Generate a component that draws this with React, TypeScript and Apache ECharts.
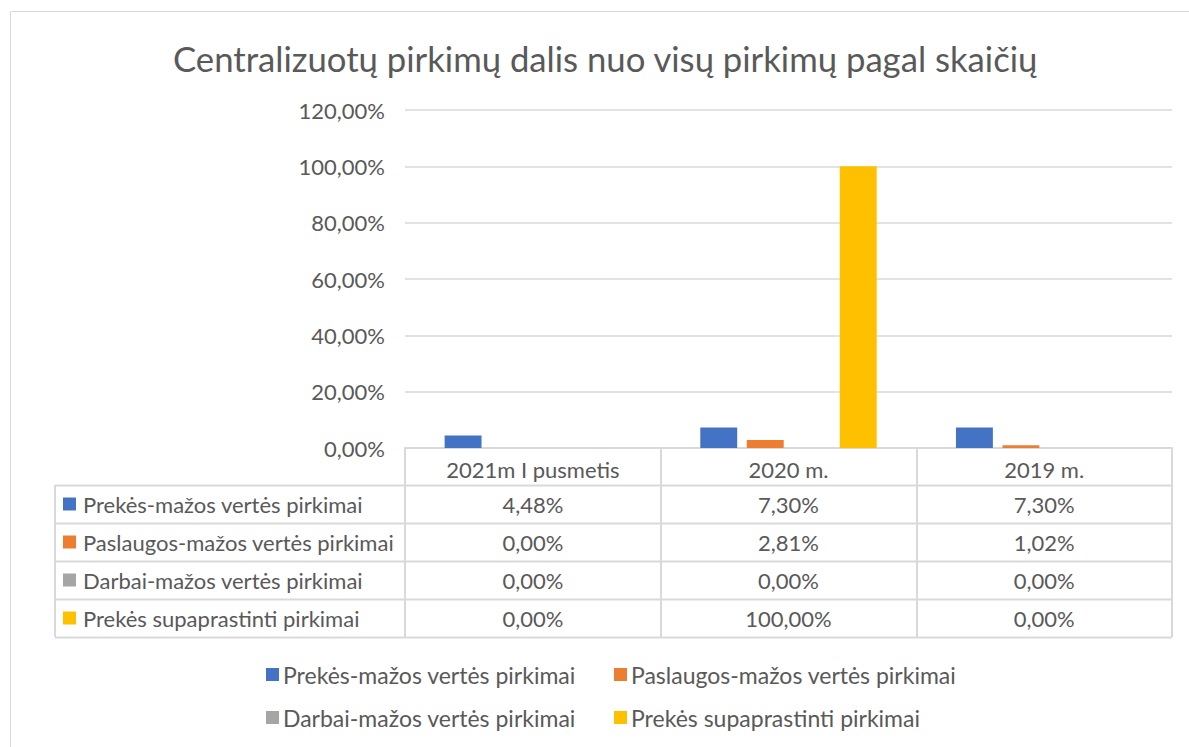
import React, { useEffect, useRef } from "react";
import * as echarts from "echarts";

const categories = ["2021m I pusmetis", "2020 m.", "2019 m."];
const seriesNames = [
  "Prekės-mažos vertės pirkimai",
  "Paslaugos-mažos vertės pirkimai",
  "Darbai-mažos vertės pirkimai",
  "Prekės supaprastinti pirkimai",
];
const prekesMazos = [4.48, 7.3, 7.3];
const paslaugosMazos = [0.0, 2.81, 1.02];
const darbaiMazos = [0.0, 0.0, 0.0];
const prekesSupaprastinti = [0.0, 100.0, 0.0];
const colors = ["#4472C4", "#ED7D31", "#A5A5A5", "#FFC000"];
const yTicks = { min: 0, max: 120, interval: 20 };

const FONT = "Lato";
const TXT = "#595959";
const LINE = "#d9d9d9";

const fmt = (v: number) => v.toFixed(2).replace(".", ",") + "%";

export default function App() {
  const ref = useRef<HTMLDivElement>(null);
  useEffect(() => {
    document.body.style.margin = "0";
    const chart = echarts.init(ref.current!, null, { renderer: "svg" });
    const all = [prekesMazos, paslaugosMazos, darbaiMazos, prekesSupaprastinti];

    const gridLeft = 405;
    const gridRight = 1172;
    const axisY = 448;
    const rowH = 38;
    const tableLeft = 55;
    const catW = (gridRight - gridLeft) / categories.length;

    const graphics: any[] = [];
    graphics.push({
      type: "rect",
      shape: { x: 10.5, y: 11.5, width: 1200, height: 800 },
      style: { fill: "none", stroke: LINE, lineWidth: 1 },
      silent: true,
    });
    for (let r = 1; r <= 5; r++) {
      const y = axisY + 37 + (r - 1) * rowH + 0.5;
      graphics.push({
        type: "line",
        shape: { x1: tableLeft, y1: y, x2: gridRight, y2: y },
        style: { stroke: LINE, lineWidth: 2 },
        silent: true,
      });
    }
    graphics.push({
      type: "line",
      shape: { x1: tableLeft, y1: axisY + 37, x2: tableLeft, y2: axisY + 37 + 4 * rowH },
      style: { stroke: LINE, lineWidth: 2 },
      silent: true,
    });
    seriesNames.forEach((name, i) => {
      const cy = axisY + 37 + i * rowH + rowH / 2;
      graphics.push({
        type: "rect",
        shape: { x: 63, y: cy - 6.5, width: 13, height: 13 },
        style: { fill: colors[i] },
        silent: true,
      });
      graphics.push({
        type: "text",
        x: 83,
        y: cy,
        style: {
          text: name,
          fill: TXT,
          font: `22px ${FONT}`,
          textVerticalAlign: "middle",
          textAlign: "left",
        },
        silent: true,
      });
      all[i].forEach((v, c) => {
        graphics.push({
          type: "text",
          x: gridLeft + catW * (c + 0.5),
          y: cy,
          style: {
            text: fmt(v),
            fill: TXT,
            font: `22px ${FONT}`,
            textVerticalAlign: "middle",
            textAlign: "center",
          },
          silent: true,
        });
      });
    });

    const legendPos = [
      [266, 663],
      [614, 663],
      [266, 706],
      [614, 706],
    ];
    const legends = seriesNames.map((name, i) => ({
      data: [name],
      left: legendPos[i][0],
      top: legendPos[i][1],
      icon: "rect",
      itemWidth: 13,
      itemHeight: 13,
      itemGap: 5,
      padding: 0,
      textStyle: { color: TXT, fontSize: 23, fontFamily: FONT, padding: [0, 0, 0, -1] },
      selectedMode: false,
    }));

    chart.setOption({
      animation: false,
      color: colors,
      title: {
        text: "Centralizuotų pirkimų dalis nuo visų pirkimų pagal skaičių",
        left: 168,
        top: 36,
        textStyle: { color: TXT, fontSize: 34.7, fontWeight: "normal", fontFamily: FONT },
      },
      legend: legends,
      grid: { left: gridLeft, right: 1189 - gridRight, top: 110, bottom: 747 - axisY },
      xAxis: {
        type: "category",
        data: categories,
        axisLine: { lineStyle: { color: LINE, width: 2 } },
        axisTick: { show: true, length: 37 + 4 * rowH, lineStyle: { color: LINE, width: 2 } },
        axisLabel: { color: TXT, fontSize: 22, fontFamily: FONT, margin: 10 },
      },
      yAxis: {
        type: "value",
        min: yTicks.min,
        max: yTicks.max,
        interval: yTicks.interval,
        axisLine: { show: false },
        axisTick: { show: false },
        splitLine: { lineStyle: { color: LINE, width: 1.5 } },
        axisLabel: {
          color: TXT,
          fontSize: 22,
          fontFamily: FONT,
          margin: 20,
          formatter: (v: number) => fmt(v),
        },
      },
      series: all.map((d, i) => ({
        name: seriesNames[i],
        type: "bar",
        data: d,
        barGap: "26%",
        barCategoryGap: "31%",
      })),
      graphic: graphics,
    });
    return () => chart.dispose();
  }, []);
  return <div ref={ref} style={{ width: 1189, height: 747 }} />;
}
